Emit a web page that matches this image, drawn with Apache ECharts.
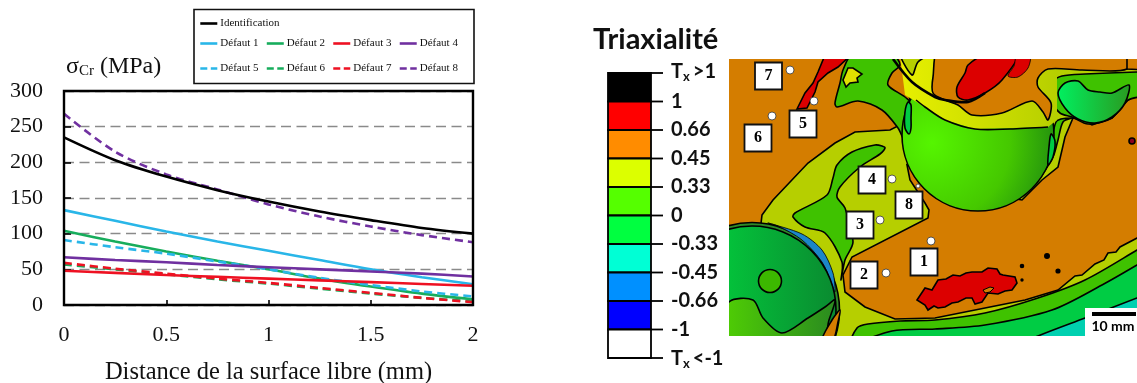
<!DOCTYPE html>
<html><head><meta charset="utf-8">
<style>html,body{margin:0;padding:0;background:#fff}#c{width:1137px;height:383px;filter:blur(0.5px)}</style>
<script src="https://cdn.jsdelivr.net/npm/echarts@6/dist/echarts.min.js"></script>
</head><body><div id="c"></div>
<script>
// ---------- chart data ----------
const distance = [0, 0.25, 0.5, 0.75, 1, 1.25, 1.5, 1.75, 2];
const identification = [235, 203, 180, 161, 145, 131, 119, 108, 100];
const defaut1 = [133, 118, 103, 89, 76, 63, 50, 39, 29];
const defaut2 = [104, 89, 75, 62, 50, 37, 26, 16, 8];
const defaut3 = [48, 45, 42, 39.5, 37, 34.5, 32, 29.5, 27];
const defaut4 = [67, 63, 60, 56, 53, 50, 47, 44, 40];
const defaut5 = [91, 81, 72, 61, 50, 38, 28, 19, 12];
const defaut6 = [57, 50, 43, 36, 30, 23, 16, 10, 5];
const defaut7 = [59, 51, 44, 37, 31, 24, 17, 10, 4];
const defaut8 = [268, 215, 183, 162, 141, 124, 110, 98, 88];
const yTicks = [0, 50, 100, 150, 200, 250, 300];
const xTicks = [0, 0.5, 1, 1.5, 2];
const cbLabels = ['1', '0.66', '0.45', '0.33', '0', '-0.33', '-0.45', '-0.66', '-1'];
const cbColors = ['#000000', '#ff0000', '#ff8c00', '#dcff00', '#55ff00', '#00ff40', '#00ffd5', '#0090ff', '#0000ff', '#ffffff'];
const defectIds = ['1', '2', '3', '4', '5', '6', '7', '8'];
const defectBoxes = [[924, 262], [864, 275], [860, 225], [872, 180], [803, 124], [758, 138], [768.5, 76], [909, 205]];
const defectDots = [[931, 241, 4], [886, 273, 4], [880, 220, 4], [892, 179, 4], [814, 101, 4], [772, 116, 4], [790, 70, 4], [918, 186, 2]];

// ---------- the contour picture, as outlines ----------
const ORANGE = '#d47d00', OLIVE = '#b6cf00', GREEN = '#3fc200', TEAL = '#00cc44', RED = '#dc0000', CYAN = '#00d0b0';
const hGrad = (a, b) => ({ type: 'linear', x: 0, y: 0, x2: 1, y2: 0, colorStops: [{ offset: 0, color: a }, { offset: 1, color: b }] });
const shapes = [
  { rect: [729, 58, 409, 279], fill: ORANGE, lw: 0 },
  { p: [[762,215],[773,200],[808,163],[835,143],[855,132],[872,131],[890,130],[898,126],[910,100],[900,40],[1170,40],[1170,370],[700,370],[752,300]], fill: OLIVE, hard: true },
  { p: [[852,345],[857,328],[868,324],[900,321],[935,320],[985,313],[1038,298],[1085,280],[1137,250],[1170,230],[1170,370]], fill: GREEN },
  { p: [[860,345],[892,331],[935,329],[985,325],[1052,310],[1102,285],[1137,265],[1170,245],[1170,370]], fill: TEAL },
  { p: [[1020,345],[1038,336],[1085,318],[1137,298],[1170,285],[1170,370]], fill: CYAN },
  { p: [[928,218],[929,210],[925,203],[910,180],[907,165],[960,190],[1022,200],[1042,180],[1058,167],[1062,150],[1065,137],[1073,118],[1082,120],[1092,125],[1112,118],[1128,100],[1150,88],[1170,88],[1170,225],[1137,238],[1120,247],[1116,252],[1108,253],[1104,260],[1095,264],[1082,275],[1075,276],[1058,290],[1025,300],[975,310],[935,318],[895,319],[865,307],[845,292],[843,275],[852,257]], fill: ORANGE, hard: true },
  { p: [[882,146],[885,148],[880,154],[860,167],[840,187],[837,197],[845,208],[853,242],[845,260],[841,280],[842,262],[825,233],[805,227],[793,217],[795,213],[827,195],[833,178],[837,165],[852,152],[875,145]], fill: GREEN },
  { p: [[852,55],[843,70],[840,83],[835,103],[837,107],[858,101],[882,110],[898,128],[907,143],[925,135],[920,112],[905,97],[888,85],[892,73],[900,65],[893,55]], fill: GREEN },
  { p: [[846,87],[843,80],[848,68],[853,68],[862,74],[857,78],[858,82],[850,83]], fill: '#dfe000', hard: true },
  { p: [[1047,92],[1052,82],[1062,76],[1085,74],[1138,72],[1160,72],[1160,92],[1128,100],[1112,118],[1088,124],[1072,117],[1060,113],[1050,100]], fill: GREEN },
  { p: [[1072,118],[1063,122],[1058,140],[1053,157],[1040,178],[1050,160],[1056,122]], fill: GREEN },
  { c: [978, 135, 76], fill: { type: 'radial', x: 0.2, y: 0.55, r: 0.85, colorStops: [{ offset: 0, color: '#55f500' }, { offset: 0.6, color: '#45c800' }, { offset: 1, color: '#1f8a10' }] } },
  { p: [[905,95],[925,107],[945,120],[975,129],[1048,127],[1057,120],[1057,55],[900,55]], fill: hGrad('#e8f000', OLIVE), lw: 0, hard: true },
  { l: [[916,100],[925,107],[945,120],[975,129],[1010,129],[1048,127]], lw: 1.6 },
  { p: [[900,50],[912,75],[918,62],[935,50]], fill: OLIVE },
  { p: [[940,50],[933,77],[933,93],[945,100],[958,105],[972,115],[1002,113],[1032,101],[1043,112],[1048,120],[1051,103],[1038,87],[1038,78],[1048,69],[1082,70],[1127,69],[1125,50]], fill: ORANGE },
  { p: [[1127,50],[1127,69],[1145,70],[1145,50]], fill: ORANGE, hard: true },
  { p: [[985,55],[968,65],[965,73],[957,87],[958,97],[968,100],[985,93],[1002,80],[1017,55]], fill: RED },
  { p: [[1017,55],[1030,55],[1028,68],[1018,77],[1008,76],[1014,66]], fill: RED, lw: 0.8 },
  { l: [[893,59],[912,82],[935,97],[945,100],[968,102],[985,93]], lw: 2.6 },
  { p: [[1051,134],[1055,141],[1053,157],[1048,165],[1049,147]], fill: TEAL },
  { p: [[908,102],[911,105],[911,118],[911,128],[909,134],[905,128],[905,112]], fill: TEAL },
  { p: [[1058,93],[1065,83],[1078,81],[1088,90],[1100,92],[1112,93],[1129,85],[1125,103],[1112,117],[1095,123],[1078,119],[1065,108]], fill: hGrad('#00f060', '#2a9a20') },
  { c: [752, 310, 87.5], fill: '#2f8a28' },
  { p: [[768,223],[802,234],[822,250],[833,273],[835,292],[831,282],[822,262],[802,240],[778,226]], fill: '#1c86c8', lw: 0.8 },
  { c: [752, 310, 84], fill: hGrad('#00e040', '#0a8a30') },
  { p: [[729,302],[753,300],[763,318],[782,333],[808,318],[825,307],[835,300],[829,320],[822,340],[710,340]], fill: hGrad('#55d800', '#2a8a20') },
  { c: [770, 281, 11.5], fill: '#3cb800' },
  { p: [[840,310],[832,320],[822,340],[833,340],[838,322]], fill: ORANGE },
  { p: [[825,55],[851,55],[838,67],[828,73],[818,82],[815,92],[807,108],[797,109],[805,93],[813,83],[818,72]], fill: RED, hard: true },
  { p: [[917,300],[925,288],[932,290],[935,285],[938,280],[946,279],[953,275],[960,276],[966,273],[972,272],[982,272],[988,268],[997,269],[1000,274],[1003,275],[1015,277],[1017,283],[1012,290],[1005,291],[998,294],[988,293],[982,302],[975,304],[972,298],[966,298],[958,302],[952,303],[945,307],[938,308],[934,306],[928,310],[925,305]], fill: RED, hard: true },
  { p: [[983,290],[990,287],[994,288],[990,292],[985,293]], fill: ORANGE, lw: 1, hard: true },
  { c: [1047, 256, 2.2], fill: '#000' },
  { c: [1022, 266, 1.5], fill: '#000' },
  { c: [1058, 271, 1.8], fill: '#000' },
  { c: [1022, 280, 0.9], fill: '#000' },
  { c: [1132, 141, 3], fill: '#8a0020' }
];

function renderShape(params, api) {
  const s = shapes[api.value(0)];
  const xy = p => api.coord(p);
  const lw = s.lw === undefined ? 1.6 : s.lw;
  const style = { fill: s.fill, stroke: lw ? '#000' : null, lineWidth: lw };
  if (s.c) return { type: 'circle', shape: { cx: xy(s.c)[0], cy: xy(s.c)[1], r: api.size([s.c[2], 0])[0] }, style };
  if (s.rect) {
    const a = xy([s.rect[0], s.rect[1]]), b = xy([s.rect[0] + s.rect[2], s.rect[1] + s.rect[3]]);
    return { type: 'rect', shape: { x: a[0], y: a[1], width: b[0] - a[0], height: b[1] - a[1] }, style };
  }
  if (s.l) return { type: 'polyline', shape: { points: s.l.map(xy), smooth: 0.3 }, style: { fill: null, stroke: '#000', lineWidth: lw } };
  return { type: 'polygon', shape: { points: s.p.map(xy), smooth: s.hard ? 0 : 0.3 }, style };
}
function renderBox(params, api) {
  const c = api.coord([api.value(0), api.value(1)]);
  return { type: 'group', children: [
    { type: 'rect', shape: { x: c[0] - 13.5, y: c[1] - 13.5, width: 27, height: 27 }, style: { fill: '#fff', stroke: '#111', lineWidth: 1.8 } },
    { type: 'text', style: { x: c[0], y: c[1], text: defectIds[params.dataIndex], font: 'bold 16px "Liberation Serif"', fill: '#000', align: 'center', verticalAlign: 'middle' } }
  ] };
}
function renderDot(params, api) {
  const c = api.coord([api.value(0), api.value(1)]);
  return { type: 'circle', shape: { cx: c[0], cy: c[1], r: api.value(2) }, style: { fill: '#fff', stroke: '#333', lineWidth: 0.8 } };
}
function renderScale(params, api) {
  const a = api.coord([1085, 308]), b = api.coord([1138, 337]);
  return { type: 'group', children: [
    { type: 'rect', shape: { x: a[0], y: a[1], width: b[0] - a[0], height: b[1] - a[1] }, style: { fill: '#fff' } },
    { type: 'rect', shape: { x: a[0] + 7, y: a[1] + 4, width: 44, height: 4 }, style: { fill: '#000' } },
    { type: 'text', style: { x: a[0] + 28, y: a[1] + 18, text: '10 mm', font: 'bold 14px Lato', fill: '#000', align: 'center', verticalAlign: 'middle' } }
  ] };
}

// ---------- line series ----------
const CY = '#29b6e8', GR = '#17ad5c', RD = '#ee1122', PU = '#7030a0';
const lineDefs = [
  ['Défaut 6', defaut6, GR, true], ['Défaut 2', defaut2, GR, false], ['Défaut 5', defaut5, CY, true], ['Défaut 1', defaut1, CY, false],
  ['Défaut 4', defaut4, PU, false], ['Défaut 7', defaut7, RD, true], ['Défaut 3', defaut3, RD, false],
  ['Défaut 8', defaut8, PU, true], ['Identification', identification, '#000', false]
];
const lineSeries = lineDefs.map(([name, vals, color, dashed]) => ({
  name, type: 'line', xAxisIndex: 0, yAxisIndex: 0, smooth: 0.3, showSymbol: false, symbol: 'none',
  data: distance.map((x, i) => [x, vals[i]]), itemStyle: { color },
  lineStyle: { color, width: 2.6, type: dashed ? [8, 5] : 'solid' }, z: 3
}));

const legendBase = { itemWidth: 17, itemHeight: 8, itemGap: 7, selectedMode: false, itemStyle: { opacity: 0 },
  textStyle: { fontFamily: '"Liberation Serif"', fontSize: 11, color: '#111', padding: [0, 0, 0, -2] } };

// ---------- colour bar ----------
const cbLeft = 608, cbRight = 651, cbTop = 73, cbStep = 28.5;
const cbGraphics = [];
cbColors.forEach((col, i) => cbGraphics.push({ type: 'rect', shape: { x: cbLeft, y: cbTop + i * cbStep, width: cbRight - cbLeft, height: cbStep }, style: { fill: col, stroke: '#000', lineWidth: 1.8 } }));
const tickY = i => cbTop + i * cbStep;
for (let i = 0; i <= cbColors.length; i++) cbGraphics.push({ type: 'line', shape: { x1: cbRight, y1: tickY(i), x2: 663, y2: tickY(i) }, style: { stroke: '#000', lineWidth: 1.8 } });
const cbFont = { fontFamily: 'Lato', fontWeight: 'bold', fontSize: 20, fill: '#111' };
cbLabels.forEach((t, i) => cbGraphics.push({ type: 'text', x: 671, y: tickY(i + 1), style: { ...cbFont, text: t, verticalAlign: 'middle' } }));
const txRich = { t: { fontFamily: 'Lato', fontWeight: 'bold', fontSize: 20, fill: '#111' }, s: { fontFamily: 'Lato', fontWeight: 'bold', fontSize: 13, fill: '#111', padding: [10, 3, 0, 0] } };
cbGraphics.push({ type: 'text', x: 671, y: tickY(0) - 1, style: { text: '{t|T}{s|x}{t|>1}', rich: txRich, verticalAlign: 'middle' } });
cbGraphics.push({ type: 'text', x: 671, y: tickY(10) + 1, style: { text: '{t|T}{s|x}{t|<-1}', rich: txRich, verticalAlign: 'middle' } });
cbGraphics.push({ type: 'text', x: 593, y: 40, style: { text: 'Triaxialité', fontFamily: 'Lato', fontWeight: 'bold', fontSize: 29, fill: '#111', verticalAlign: 'middle' } });

const chart = echarts.init(document.getElementById('c'), null, { renderer: 'canvas' });
chart.setOption({
  animation: false, backgroundColor: '#fff',
  grid: [
    { left: 64, top: 91, width: 409, height: 214, show: true, borderColor: '#000', borderWidth: 2.4, backgroundColor: 'transparent', z: 4, outerBoundsMode: 'none' },
    { left: 729.5, top: 59, width: 407.5, height: 277, outerBoundsMode: 'none' }
  ],
  xAxis: [
    { type: 'value', gridIndex: 0, min: 0, max: 2, interval: 0.5, name: 'Distance de la surface libre (mm)', nameLocation: 'middle', nameGap: 55,
      nameTextStyle: { fontFamily: '"Liberation Serif"', fontSize: 24.5, color: '#111' },
      axisLine: { show: false }, axisTick: { inside: true, length: 5, lineStyle: { color: '#000', width: 1.6 } },
      axisLabel: { margin: 19, fontFamily: '"Liberation Serif"', fontSize: 22, color: '#111', formatter: v => String(v), customValues: xTicks }, splitLine: { show: false } },
    { type: 'value', gridIndex: 1, min: 729.5, max: 1137, show: false }
  ],
  yAxis: [
    { type: 'value', gridIndex: 0, min: 0, max: 300, interval: 50,
      axisLine: { show: false }, axisTick: { inside: true, length: 7, lineStyle: { color: '#000', width: 1.6 } },
      axisLabel: { margin: 21, fontFamily: '"Liberation Serif"', fontSize: 22, color: '#111', customValues: yTicks },
      splitLine: { show: true, lineStyle: { color: '#8a8a8a', width: 1.4, type: [10, 5.5] } } },
    { type: 'value', gridIndex: 1, min: 59, max: 336, inverse: true, show: false }
  ],
  legend: [
    { ...legendBase, left: 194, top: 13, lineStyle: { width: 2.6 }, data: ['Identification'] },
    { ...legendBase, left: 194, top: 33, lineStyle: { width: 2.6 }, data: ['Défaut 1', 'Défaut 2', 'Défaut 3', 'Défaut 4'] },
    { ...legendBase, left: 194, top: 58, lineStyle: { width: 2.6, type: [7, 3.5] }, data: ['Défaut 5', 'Défaut 6', 'Défaut 7', 'Défaut 8'] }
  ],
  graphic: [
    { type: 'rect', silent: true, shape: { x: 194, y: 9.5, width: 280, height: 74 }, style: { fill: 'none', stroke: '#111', lineWidth: 1.6 } },
    { type: 'text', x: 66, y: 67, style: { text: '{a|σ}{b|Cr}{a| (MPa)}', verticalAlign: 'middle',
      rich: { a: { fontFamily: '"Liberation Serif"', fontSize: 24, fill: '#111' }, b: { fontFamily: '"Liberation Serif"', fontSize: 15, fill: '#111', padding: [9, 0, 0, 0] } } } },
    ...cbGraphics
  ],
  series: [
    ...lineSeries,
    { name: 'contours', type: 'custom', xAxisIndex: 1, yAxisIndex: 1, clip: true, renderItem: renderShape, data: shapes.map((s, i) => [i]), silent: true, z: 1, encode: { x: [], y: [] } },
    { name: 'scale', type: 'custom', xAxisIndex: 1, yAxisIndex: 1, clip: true, renderItem: renderScale, data: [[1085, 308]], silent: true, z: 2 },
    { name: 'points', type: 'custom', xAxisIndex: 1, yAxisIndex: 1, renderItem: renderDot, data: defectDots, silent: true, z: 2 },
    { name: 'defects', type: 'custom', xAxisIndex: 1, yAxisIndex: 1, renderItem: renderBox, data: defectBoxes, silent: true, z: 2 }
  ]
});
</script></body></html>
